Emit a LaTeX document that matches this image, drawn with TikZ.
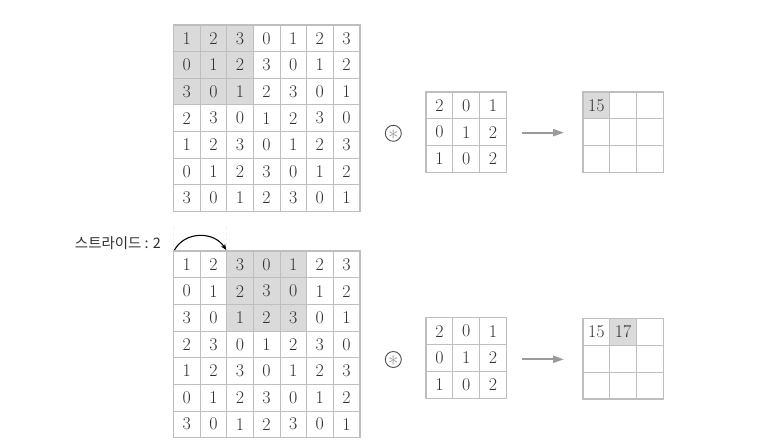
\documentclass[tikz,border=0pt]{standalone}
\usepackage{fontspec}
\newfontfamily\krfont{Noto Sans CJK KR}
\usetikzlibrary{arrows.meta}
\definecolor{gridline}{HTML}{BEBEBE}
\definecolor{shadecell}{HTML}{DADADA}
\definecolor{digit}{HTML}{303030}
\definecolor{arrowgray}{HTML}{9A9A9A}
\begin{document}
\begin{tikzpicture}[x=1bp,y=-1bp,
  cell/.style={draw=gridline,line width=0.8bp,minimum size=26.6bp,inner sep=0pt,
    text=digit,font=\fontsize{18}{20}\selectfont},
  kcell/.style={cell,minimum size=26.7bp},
  outerbox/.style={draw=gridline,line width=1.1bp},
  resarrow/.style={draw=arrowgray,line width=2bp,-{Triangle[length=11bp,width=7bp]}},
  convsym/.style={circle,draw=digit!85,line width=0.9bp,minimum size=16bp,inner sep=0pt,
    text=arrowgray,font=\fontsize{22}{22}\selectfont},
  guide/.style={draw=gridline,line width=0.5bp,dotted}]
\useasboundingbox (0,0) rectangle (772,447);
\fill[white] (0,0) rectangle (772,447);

% ---------- top input ----------
\fill[shadecell] (173.5,25) rectangle +(79.8,79.8);
\foreach \row [count=\r from 0] in {{1,2,3,0,1,2,3},{0,1,2,3,0,1,2},{3,0,1,2,3,0,1},{2,3,0,1,2,3,0},{1,2,3,0,1,2,3},{0,1,2,3,0,1,2},{3,0,1,2,3,0,1}}{
  \foreach \v [count=\c from 0] in \row {
    \node[cell] (A-\r-\c) at (186.8+26.6*\c, 38.3+26.6*\r) {\v};
  }
}
\draw[outerbox] (A-0-0.north west) rectangle (A-6-6.south east);

% ---------- bottom input ----------
\fill[shadecell] (226.7,251.3) rectangle +(79.8,79.8);
\foreach \row [count=\r from 0] in {{1,2,3,0,1,2,3},{0,1,2,3,0,1,2},{3,0,1,2,3,0,1},{2,3,0,1,2,3,0},{1,2,3,0,1,2,3},{0,1,2,3,0,1,2},{3,0,1,2,3,0,1}}{
  \foreach \v [count=\c from 0] in \row {
    \node[cell] (B-\r-\c) at (186.8+26.6*\c, 264.6+26.6*\r) {\v};
  }
}
\draw[outerbox] (B-0-0.north west) rectangle (B-6-6.south east);

% ---------- kernels ----------
\foreach \row [count=\r from 0] in {{2,0,1},{0,1,2},{1,0,2}}{
  \foreach \v [count=\c from 0] in \row {
    \node[kcell] (K-\r-\c) at (439.5+26.7*\c, 105.4+26.7*\r) {\v};
    \node[kcell] (L-\r-\c) at (439.5+26.7*\c, 331.2+26.7*\r) {\v};
  }
}
\draw[outerbox] (K-0-0.north west) rectangle (K-2-2.south east);
\draw[outerbox] (L-0-0.north west) rectangle (L-2-2.south east);

% ---------- outputs ----------
\foreach \r in {0,1,2}{
  \foreach \c in {0,1,2}{
    \node[kcell] (O-\r-\c) at (596.3+26.7*\c, 105.4+26.7*\r) {};
    \node[kcell] (P-\r-\c) at (596.3+26.7*\c, 331.9+26.7*\r) {};
  }
}
\node[kcell,fill=shadecell] at (O-0-0) {15};
\node[kcell] at (P-0-0) {15};
\node[kcell,fill=shadecell] at (P-0-1) {17};
\draw[outerbox] (O-0-0.north west) rectangle (O-2-2.south east);
\draw[outerbox] (P-0-0.north west) rectangle (P-2-2.south east);

% ---------- operators and arrows ----------
\node[convsym] (c1) at (393.3,133.3) {};
\node[convsym] (c2) at (393.3,359.5) {};
\node[text=arrowgray,inner sep=0pt,font=\fontsize{22}{22}\selectfont] (ast1) at ([yshift=-1.5bp]c1.center) {$\ast$};
\node[text=arrowgray,inner sep=0pt,font=\fontsize{22}{22}\selectfont] (ast2) at ([yshift=-1.5bp]c2.center) {$\ast$};
\coordinate (a1s) at (521.7,132.7);
\coordinate (a1e) at (564,132.7);
\coordinate (a2s) at (521.7,359.3);
\coordinate (a2e) at (564,359.3);
\draw[resarrow] (a1s) -- (a1e);
\draw[resarrow] (a2s) -- (a2e);

% ---------- stride ----------
\coordinate (g1t) at (174,227);
\coordinate (g2t) at (226.7,227);
\draw[guide] (g1t) -- (B-0-0.north west);
\draw[guide] (g2t) -- (B-0-2.north west);
\coordinate (s1) at (174.5,250);
\coordinate (s2) at (226.2,250);
\draw[line width=1.1bp,-{Stealth[length=6bp,width=5bp]}] (s1) .. controls (185,231) and (214,231) .. (s2);
\node[font=\krfont\fontsize{14.5}{16}\selectfont,text=digit] (stride) at (118,243) {스트라이드 : 2};
\end{tikzpicture}
\end{document}
